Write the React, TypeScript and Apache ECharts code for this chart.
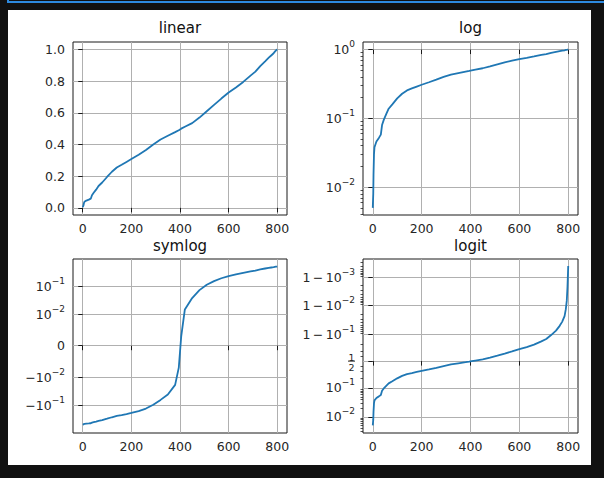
import React, { useEffect, useRef } from 'react';
import * as echarts from 'echarts';

// Sorted samples: index along x, value along y
const xValues = [
  0, 2, 3, 5, 7, 15, 25, 33, 38, 45, 55, 65, 80, 100, 120, 140, 160, 180, 200, 230,
  260, 290, 320, 350, 380, 395, 400, 405, 420, 450, 480, 510, 540, 570, 600, 630,
  660, 690, 710, 730, 750, 765, 775, 785, 790, 794, 797, 799, 800,
];
const yValues = [
  0.005, 0.008, 0.015, 0.03, 0.038, 0.046, 0.052, 0.058, 0.08, 0.095, 0.115, 0.138, 0.16,
  0.195, 0.228, 0.255, 0.272, 0.29, 0.308, 0.335, 0.365, 0.4, 0.432, 0.455, 0.478, 0.49,
  0.495, 0.5, 0.512, 0.535, 0.57, 0.61, 0.65, 0.69, 0.728, 0.76, 0.795, 0.835, 0.86,
  0.895, 0.925, 0.948, 0.962, 0.976, 0.986, 0.993, 0.9978, 0.9993, 0.9996,
];
// Mean of the samples, subtracted for the symlog panel
const yMean = 0.497;

// Tick values and their labels
const xTicks = [0, 200, 400, 600, 800];
const linearTicks = [0, 0.2, 0.4, 0.6, 0.8, 1.0];
const linearTickLabels = ['0.0', '0.2', '0.4', '0.6', '0.8', '1.0'];
const logTicks = [0.01, 0.1, 1];
const logTickLabels = ['{b|10}{s|−2}', '{b|10}{s|−1}', '{b|10}{s|0}'];
const logMinorTicks = [
  0.004, 0.005, 0.006, 0.007, 0.008, 0.009,
  0.02, 0.03, 0.04, 0.05, 0.06, 0.07, 0.08, 0.09,
  0.2, 0.3, 0.4, 0.5, 0.6, 0.7, 0.8, 0.9,
];
const symlogTicks = [-0.1, -0.01, 0, 0.01, 0.1];
const symlogTickLabels = ['{b|−10}{s|−1}', '{b|−10}{s|−2}', '{b|0}', '{b|10}{s|−2}', '{b|10}{s|−1}'];
const logitTicks = [0.01, 0.1, 0.5, 0.9, 0.99, 0.999];
const logitTickLabels = [
  '{b|10}{s|−2}',
  '{b|10}{s|−1}',
  '{nt|1}\n{bar| }\n{n|2}',
  '{b|1\u2009−\u200910}{s|−1}',
  '{b|1\u2009−\u200910}{s|−2}',
  '{b|1\u2009−\u200910}{s|−3}',
];
const logitMinorTicks = [
  0.003, 0.004, 0.005, 0.006, 0.007, 0.008, 0.009,
  0.02, 0.03, 0.04, 0.05, 0.06, 0.07, 0.08, 0.09,
  0.2, 0.3, 0.4, 0.6, 0.7, 0.8,
  0.91, 0.92, 0.93, 0.94, 0.95, 0.96, 0.97, 0.98,
  0.991, 0.992, 0.993, 0.994, 0.995, 0.996, 0.997, 0.998,
  0.9991, 0.9992, 0.9993, 0.9994, 0.9995, 0.9996, 0.9997,
];

const FONT = 'DejaVu Sans';
const TEXT = '#262626';
const GRID_COLOR = '#b0b0b0';
const LINE_COLOR = '#1f77b4';
const SPINE = '#1a1a1a';

// Axis scale transforms
const LINTHRESH = 0.01;
const LINSCALE = 1 / (1 - 1 / 10);
const identity = (v: number) => v;
const log10 = (v: number) => Math.log10(v);
const symlog = (v: number) => {
  const a = Math.abs(v);
  const s = Math.sign(v);
  return a <= LINTHRESH ? (s * a * LINSCALE) / LINTHRESH : s * (LINSCALE + Math.log10(a / LINTHRESH));
};
const logit = (p: number) => Math.log10(p / (1 - p));

const rich = {
  b: { fontSize: 12.5, lineHeight: 20, fontFamily: FONT, color: TEXT },
  s: { fontSize: 9, lineHeight: 9, verticalAlign: 'top', fontFamily: FONT, color: TEXT },
  // stacked one-half: numerator, bar, denominator
  nt: { fontSize: 9.5, lineHeight: 9.5, padding: [5, 0, 0, 0], fontFamily: FONT, color: TEXT, align: 'center' },
  n: { fontSize: 9.5, lineHeight: 9.5, fontFamily: FONT, color: TEXT, align: 'center' },
  bar: { fontSize: 1, lineHeight: 3, width: 7, height: 1, backgroundColor: TEXT, align: 'center' },
};

const grids = [
  { left: 73, top: 42, width: 214, height: 173 },
  { left: 363, top: 42, width: 215, height: 173 },
  { left: 73, top: 259, width: 214, height: 174 },
  { left: 363, top: 259, width: 215, height: 174 },
];

const titles = [
  { text: 'linear', x: 180, y: 27.5 },
  { text: 'log', x: 470.5, y: 27.5 },
  { text: 'symlog', x: 180, y: 245.5 },
  { text: 'logit', x: 470.5, y: 245.5 },
];

function nearest(list: number[], v: number) {
  let best = 0;
  for (let i = 1; i < list.length; i++) {
    if (Math.abs(list[i] - v) < Math.abs(list[best] - v)) best = i;
  }
  return best;
}

function makeXAxis(gridIndex: number) {
  return {
    type: 'value',
    gridIndex,
    position: 'bottom',
    min: -40,
    max: 840,
    axisLine: { show: false },
    axisTick: { show: true, customValues: xTicks, length: 4.5, lineStyle: { color: SPINE, width: 1 } },
    axisLabel: {
      customValues: xTicks,
      margin: 7,
      fontSize: 12.5,
      fontFamily: FONT,
      color: TEXT,
    },
    splitLine: { show: true, lineStyle: { color: GRID_COLOR, width: 1 } },
  };
}

function makeYAxis(gridIndex: number, min: number, max: number, positions: number[], labels: string[]) {
  return {
    type: 'value',
    gridIndex,
    position: 'left',
    min,
    max,
    axisLine: { show: false },
    axisTick: { show: true, customValues: positions, length: 4.5, lineStyle: { color: SPINE, width: 1 } },
    axisLabel: {
      customValues: positions,
      margin: 8,
      fontSize: 12.5,
      fontFamily: FONT,
      color: TEXT,
      formatter: (v: number) => labels[nearest(positions, v)],
      rich,
    },
    splitLine: { show: true, lineStyle: { color: GRID_COLOR, width: 1 } },
  };
}

// Unlabelled axis on the same side carrying the short minor ticks
function makeMinorAxis(gridIndex: number, min: number, max: number, positions: number[]) {
  return {
    type: 'value',
    gridIndex,
    position: 'left',
    offset: 0,
    min,
    max,
    axisLine: { show: false },
    axisTick: {
      show: true,
      customValues: positions.filter((p) => p > min && p < max),
      length: 2.5,
      lineStyle: { color: SPINE, width: 0.75 },
    },
    axisLabel: { show: false },
    splitLine: { show: false },
  };
}

function makeSeries(xAxisIndex: number, yAxisIndex: number, f: (v: number) => number, offset = 0) {
  return {
    type: 'line',
    xAxisIndex,
    yAxisIndex,
    data: xValues.map((x, i) => [x, f(yValues[i] - offset)]),
    showSymbol: false,
    symbol: 'none',
    silent: true,
    lineStyle: { color: LINE_COLOR, width: 1.8 },
    itemStyle: { color: LINE_COLOR },
  };
}

function buildOption() {
  const linRange: [number, number] = [-0.045, 1.047];
  const logRange: [number, number] = [-2.405, 0.11];
  const symRange: [number, number] = [-3.1, 3.08];
  const logitRange: [number, number] = [-2.57, 3.65];

  return {
    animation: false,
    backgroundColor: 'transparent',
    grid: grids.map((g) => ({
      ...g,
      show: true,
      borderColor: SPINE,
      borderWidth: 1,
      backgroundColor: 'transparent',
      containLabel: false,
      outerBoundsMode: 'none',
    })),
    xAxis: [0, 1, 2, 3].map((i) => makeXAxis(i)),
    yAxis: [
      makeYAxis(0, linRange[0], linRange[1], linearTicks.map(identity), linearTickLabels),
      makeYAxis(1, logRange[0], logRange[1], logTicks.map(log10), logTickLabels),
      makeMinorAxis(1, logRange[0], logRange[1], logMinorTicks.map(log10)),
      makeYAxis(2, symRange[0], symRange[1], symlogTicks.map(symlog), symlogTickLabels),
      makeYAxis(3, logitRange[0], logitRange[1], logitTicks.map(logit), logitTickLabels),
      makeMinorAxis(3, logitRange[0], logitRange[1], logitMinorTicks.map(logit)),
    ],
    series: [
      makeSeries(0, 0, identity),
      makeSeries(1, 1, log10),
      makeSeries(2, 3, symlog, yMean),
      makeSeries(3, 4, logit),
    ],
    graphic: titles.map((t) => ({
      type: 'text',
      silent: true,
      style: {
        text: t.text,
        x: t.x,
        y: t.y,
        align: 'center',
        verticalAlign: 'middle',
        textAlign: 'center',
        textVerticalAlign: 'middle',
        fontSize: 15,
        fontFamily: FONT,
        fill: '#111',
      },
    })),
  };
}

export default function App() {
  const ref = useRef<HTMLDivElement>(null);
  useEffect(() => {
    if (!ref.current) return;
    const chart = echarts.init(ref.current, null, { renderer: 'svg' });
    chart.setOption(buildOption() as any);
    return () => chart.dispose();
  }, []);
  return (
    <div
      style={{
        position: 'fixed',
        left: 0,
        top: 0,
        width: 604,
        height: 478,
        background: '#111111',
        overflow: 'hidden',
      }}
    >
      <div
        style={{
          position: 'absolute',
          left: 7,
          top: -19,
          width: 620,
          height: 20,
          borderLeft: '2px solid #2d8ae0',
          borderBottom: '2px solid #2d8ae0',
        }}
      />
      <div style={{ position: 'absolute', left: 8, top: 10, width: 583, height: 455, background: '#ffffff' }} />
      <div ref={ref} style={{ position: 'absolute', left: 0, top: 0, width: 604, height: 478 }} />
    </div>
  );
}
